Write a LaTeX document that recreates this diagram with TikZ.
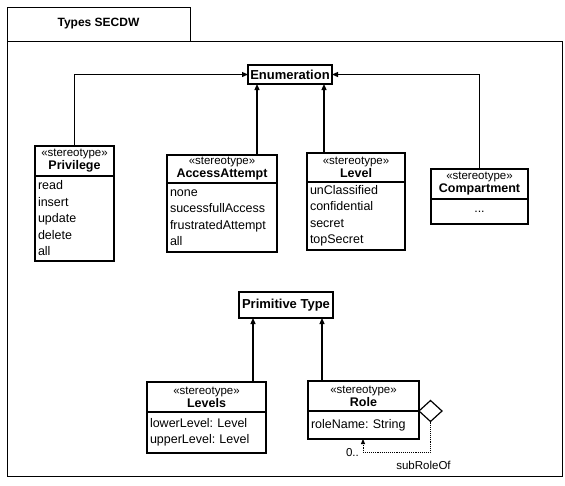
\documentclass[tikz,border=0pt]{standalone}
\usepackage{fontspec}
\setmainfont{Liberation Sans}
\usepackage{tikz}
\usetikzlibrary{positioning,shapes,shapes.geometric,arrows.meta}
\tikzstyle{pkgtab}=[rectangle,draw=black,line width=1pt,outer sep=0pt,anchor=north west,minimum width=183,minimum height=34,font=\bfseries\fontsize{12}{13}\selectfont]
\tikzstyle{pkgbody}=[rectangle,draw=black,line width=1pt,outer sep=0pt,anchor=north west,minimum width=555,minimum height=435]
\tikzstyle{type}=[rectangle,fill=white,draw=black,line width=1.2pt,outer sep=0pt,inner sep=1pt,font=\bfseries\fontsize{13}{14}\selectfont]
\tikzstyle{classhead}=[rectangle,fill=white,draw=black,line width=1.2pt,outer sep=0pt,anchor=north west,align=center,inner sep=1pt,font=\fontsize{12.5}{13}\selectfont]
\tikzstyle{classbody}=[rectangle,fill=white,draw=black,line width=1.2pt,outer sep=0pt,align=left,inner xsep=3pt,inner ysep=0pt,font=\fontsize{12.5}{16.5}\selectfont]
\tikzstyle{agg}=[diamond,fill=white,draw=black,line width=1.2pt,outer sep=0pt,inner sep=0pt,minimum width=23,minimum height=21]
\tikzstyle{mypath}=[line width=1.2pt,-{Triangle[length=6pt,width=5pt]}]
\tikzstyle{selfpath}=[line width=0.9pt,densely dotted,-{Triangle[length=5pt,width=4pt]}]
\tikzstyle{mult}=[inner sep=1pt,font=\fontsize{11.5}{12}\selectfont]
\newcommand{\stereo}{{\fontsize{11.5}{12}\selectfont «stereotype»}}
\frenchspacing

\begin{document}
\begin{tikzpicture}[x=1pt,y=-1pt]
                \useasboundingbox (0,0) rectangle (565,485);

                % package frame
                \node[pkgtab] (tab) at (7,7) {Types SECDW};
                \node[pkgbody] (pkg) at (tab.south west) {};

                \node[type,minimum width=84,minimum height=19] (enum) at (290,74.5) {Enumeration};
                \node[type,minimum width=94,minimum height=26] (prim) at (286,305) {Primitive Type};

                % stereotypes of Enumeration
                \node[classhead,minimum width=79,minimum height=30] (priv) at (35,146) {\stereo\\\textbf{Privilege}};
                \node[classbody,below=0pt of priv,text width=73,minimum height=85] (privb) {read\\insert\\update\\delete\\all};

                \node[classhead,minimum width=110,minimum height=28] (acc) at (167,155) {\stereo\\\textbf{AccessAttempt}};
                \node[classbody,below=0pt of acc,text width=104,minimum height=69] (accb) {none\\sucessfullAccess\\frustratedAttempt\\all};

                \node[classhead,minimum width=98,minimum height=29] (lvl) at (307,153) {\stereo\\\textbf{Level}};
                \node[classbody,below=0pt of lvl,text width=92,minimum height=68] (lvlb) {unClassified\\confidential\\secret\\topSecret};

                \node[classhead,minimum width=97,minimum height=30] (comp) at (431,169) {\stereo\\\textbf{Compartment}};
                \node[classbody,below=0pt of comp,text width=91,minimum height=25,align=center] (compb) {...};

                % stereotypes of Primitive Type
                \node[classhead,minimum width=119,minimum height=30] (lvls) at (147,382) {\stereo\\\textbf{Levels}};
                \node[classbody,below=0pt of lvls,text width=113,minimum height=41] (lvlsb) {lowerLevel: Level\\upperLevel: Level};

                \node[classhead,minimum width=111,minimum height=30] (role) at (308,381) {\stereo\\\textbf{Role}};
                \node[classbody,below=0pt of role,text width=105,minimum height=28] (roleb) {roleName: String};

                \node[agg,anchor=west] (subrole) at (roleb.north east) {};

                \coordinate (acctop) at ([xshift=-20pt]acc.north east);
                \coordinate (lvltop) at ([xshift=17pt]lvl.north west);
                \coordinate (lvlstop) at ([xshift=-13pt]lvls.north east);
                \coordinate (roletop) at ([xshift=14pt]role.north west);
                \coordinate (rolefoot) at ([xshift=55pt]roleb.south west);
                \coordinate (loopcorner) at ([yshift=-13pt]rolefoot);
                \coordinate (loopend) at (subrole.south |- loopcorner);

                \draw[mypath] (priv.north) |- (enum.west);
                \draw[mypath] (comp.north) |- (enum.east);
                \draw[mypath] (acctop) -- (acctop |- enum.south);
                \draw[mypath] (lvltop) -- (lvltop |- enum.south);
                \draw[mypath] (lvlstop) -- (lvlstop |- prim.south);
                \draw[mypath] (roletop) -- (roletop |- prim.south);

                \draw[selfpath] (subrole.south) -- (loopend) -- (loopcorner) -- (rolefoot);
                \node[mult,anchor=east] (multrole) at ([xshift=-3pt,yshift=-1pt]loopcorner) {0..};
                \node[mult] (subrolelbl) at ([xshift=-7pt,yshift=-13pt]loopend) {subRoleOf};
\end{tikzpicture}
\end{document}
